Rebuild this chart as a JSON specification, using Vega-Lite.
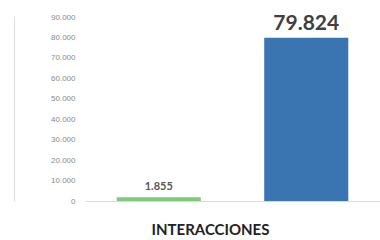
{
  "$schema": "https://vega.github.io/schema/vega-lite/v6.json",
  "autosize": "none",
  "padding": {"left": 85, "top": 17, "right": 0, "bottom": 39},
  "width": 295,
  "height": 184,
  "background": "white",
  "config": {"view": {"stroke": null}, "font": "Lato"},
  "data": {"values": [
    {"serie": "A", "valor": 1855, "etiqueta": "1.855"},
    {"serie": "B", "valor": 79824, "etiqueta": "79.824"}
  ]},
  "encoding": {
    "x": {"field": "serie", "type": "nominal", "sort": null,
      "scale": {"domain": ["A", "B"], "paddingInner": 0.43, "paddingOuter": 0.215},
      "axis": {"title": "INTERACCIONES", "labels": false, "ticks": false,
        "domainColor": "#d9d9d9", "domainWidth": 1,
        "titleFontSize": 15, "titleFontWeight": "bold", "titleColor": "#222222",
        "titleX": 125, "titleY": 33, "titleBaseline": "alphabetic", "titleFont": "Lato"}},
    "y": {"field": "valor", "type": "quantitative",
      "scale": {"domain": [0, 90000], "nice": false},
      "axis": {"title": null, "values": [0,10000,20000,30000,40000,50000,60000,70000,80000,90000],
        "labelExpr": "replace(format(datum.value, ','), ',', '.')",
        "grid": false, "ticks": false, "domain": true, "domainColor": "#dddddd",
        "offset": 71, "labelPadding": -61, "labelAlign": "right",
        "labelFontSize": 8, "labelColor": "#8a8a8a", "labelFont": "Liberation Sans"}}
  },
  "layer": [
    {"mark": {"type": "bar"},
     "encoding": {"color": {"field": "serie", "type": "nominal",
       "scale": {"domain": ["A", "B"], "range": ["#7ec97a", "#3a74b1"]}, "legend": null}}},
    {"transform": [{"filter": "datum.serie == 'A'"}],
     "mark": {"type": "text", "baseline": "alphabetic", "fontWeight": "bold", "font": "Lato", "fontSize": 11, "color": "#595959", "dy": -7},
     "encoding": {"text": {"field": "etiqueta"}}},
    {"transform": [{"filter": "datum.serie == 'B'"}],
     "mark": {"type": "text", "baseline": "alphabetic", "fontWeight": "bold", "font": "Lato", "fontSize": 21, "color": "#404040", "dy": -8},
     "encoding": {"text": {"field": "etiqueta"}}}
  ]
}
